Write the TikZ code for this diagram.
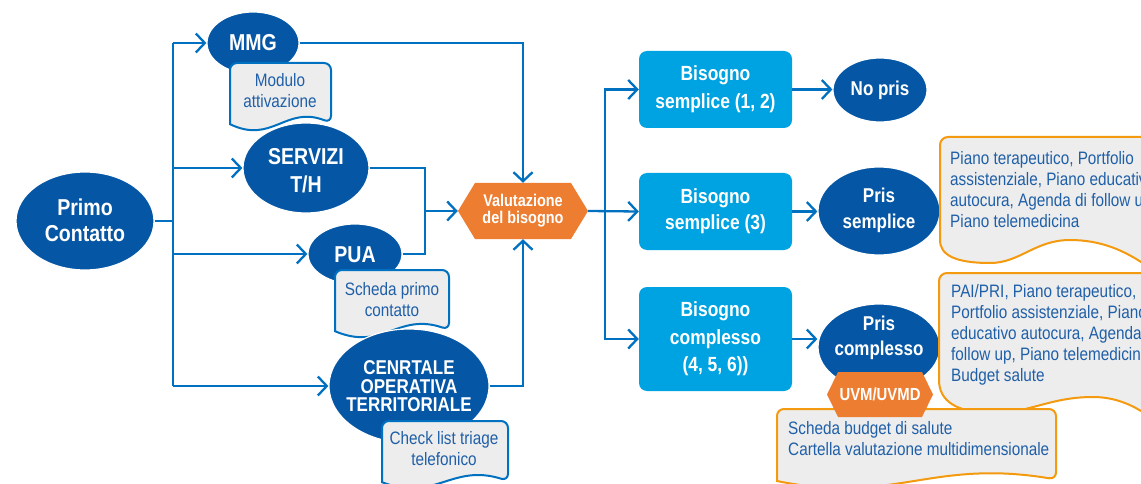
\documentclass[tikz,border=0pt]{standalone}
\usepackage{fontspec}
\setmainfont{Liberation Sans}[FakeStretch=0.85]
\usetikzlibrary{arrows.meta,shapes.geometric,calc}

\definecolor{ellblue}{HTML}{0557A5}
\definecolor{boxblue}{HTML}{00A3E1}
\definecolor{lineblue}{HTML}{0070C0}
\definecolor{hexorange}{HTML}{ED7D31}
\definecolor{docorange}{HTML}{F49A0F}
\definecolor{docgray}{HTML}{EDEDED}
\definecolor{doctext}{HTML}{1F5FA8}

% bold white label font: size and baseline skip
\newcommand\lblfont[2]{\fontsize{#1}{#2}\selectfont\bfseries}

% document shape with rounded top and a wavy bottom edge
% #1 style, #2 left, #3 top, #4 right, #5 nominal bottom
\newcommand\wavedoc[5]{%
  \pgfmathsetmacro\wdW{#4-#2}%
  \pgfmathsetmacro\wdH{#5-#3}%
  \draw[#1, rounded corners=7pt] (#2,{#3+0.9*\wdH}) -- (#2,#3) -- (#4,#3)
    -- (#4,{#3+0.88*\wdH}) [sharp corners]
    .. controls ({#2+0.55*\wdW},{#3+0.62*\wdH}) and ({#2+0.42*\wdW},{#3+1.2*\wdH})
    .. (#2,{#3+0.9*\wdH}) -- cycle;}

\begin{document}
\begin{tikzpicture}[x=1pt,y=-1pt,
  ell/.style={ellipse, fill=ellblue, draw=white, line width=1.2pt, inner sep=0pt},
  lbl/.style={text=white, align=center, inner sep=0pt},
  need/.style={rectangle, rounded corners=8pt, fill=boxblue, minimum width=153pt,
    inner sep=0pt, text=white, align=center},
  hexnode/.style={rectangle, inner sep=0pt, text=white, align=center,
    path picture={\fill[hexorange] (path picture bounding box.west)
      -- ([xshift=#1]path picture bounding box.north west)
      -- ([xshift=-#1]path picture bounding box.north east)
      -- (path picture bounding box.east)
      -- ([xshift=-#1]path picture bounding box.south east)
      -- ([xshift=#1]path picture bounding box.south west) -- cycle;}},
  link/.style={draw=lineblue, line width=2.3pt},
  arr/.style={link, -{Straight Barb[length=9pt,width=19pt]}},
  bluedoc/.style={draw=lineblue, fill=docgray, line width=2pt},
  orangedoc/.style={draw=docorange, fill=docgray, line width=2pt},
  doctxt/.style={text=doctext, inner sep=0pt, font=\fontsize{18}{21}\selectfont}
]
\useasboundingbox (0,0) rectangle (1141,484);
\fill[white] (0,0) rectangle (1141,484);
\clip (0,0) rectangle (1141,484);

% ---------- entry points ----------
\node[ell, minimum width=138pt, minimum height=98pt] (primo) at (85,221) {};
\node[lbl, font=\lblfont{23}{26}] (primoT) at (85,220) {Primo\\Contatto};

\node[ell, minimum width=92pt, minimum height=62pt] (mmg) at (253,43) {};
\node[lbl, font=\lblfont{23}{26}] (mmgT) at (253,43) {MMG};
\wavedoc{bluedoc}{230}{63}{331}{131}
\node[doctxt, align=center] (modT) at (280,91) {Modulo\\attivazione};

\node[ell, minimum width=126pt, minimum height=90pt] (serv) at (306,168) {};
\node[lbl, font=\lblfont{23}{28}] (servT) at (306,171) {SERVIZI\\T/H};

\node[ell, minimum width=94pt, minimum height=60pt] (pua) at (355,254) {};
\node[lbl, font=\lblfont{23}{26}] (puaT) at (355,255) {PUA};
\wavedoc{bluedoc}{335}{270}{449}{338}
\node[doctxt, align=center] (schT) at (392,299.5) {Scheda primo\\contatto};

\node[ell, minimum width=160pt, minimum height=114pt] (cot) at (409,386) {};
\node[lbl, font=\lblfont{20}{18.5}] (cotT) at (409,386.5) {CENRTALE\\OPERATIVA\\TERRITORIALE};
\wavedoc{bluedoc}{382}{421}{508}{489}
\node[doctxt, align=center] (chkT) at (444,448.5) {Check list triage\\telefonico};

% ---------- assessment ----------
\node[hexnode=17pt, minimum width=130pt, minimum height=56pt, font=\lblfont{17}{17}]
  (val) at (523,211) {Valutazione\\del bisogno};

\coordinate (busN) at (173,43);
\coordinate (busS) at (173,386);
\coordinate (jn) at (425,211);
\coordinate (rb) at (605,211);

% ---------- need levels ----------
\node[need, minimum height=77pt, font=\lblfont{20.5}{28}] (b1) at (715.5,89.5) {Bisogno\\semplice (1, 2)};
\node[need, minimum height=77pt, font=\lblfont{20.5}{26}] (b2) at (715.5,211.5) {Bisogno\\semplice (3)};
\node[need, minimum height=104pt, font=\lblfont{20.5}{27.5}] (b3) at (715.5,339) {Bisogno\\complesso\\(4, 5, 6))};

\node[ell, minimum width=94pt, minimum height=64pt] (nopris) at (880,90) {};
\node[lbl, font=\lblfont{20}{25}] (noprisT) at (880,90) {No pris};

\node[ell, minimum width=122pt, minimum height=88pt] (prisS) at (879,211) {};
\node[lbl, font=\lblfont{20}{26}] (prisST) at (879,210) {Pris\\semplice};
\draw[orangedoc, rounded corners=8pt] (940,240) -- (940,137) -- (1155,137) -- (1155,272) [sharp corners]
  .. controls (1125,250) and (1100,240) .. (1070,240)
  .. controls (1035,240) and (1020,263) .. (990,263)
  .. controls (955,263) and (940,255) .. (940,240) -- cycle;
\node[doctxt, align=left, anchor=west] (d1T) at (950,190)
  {Piano terapeutico, Portfolio\\assistenziale, Piano educativo\\autocura, Agenda di follow up,\\Piano telemedicina};

\node[ell, minimum width=122pt, minimum height=86pt] (prisC) at (879,347) {};
\node[lbl, font=\lblfont{20}{25}] (prisCT) at (879,337.5) {Pris\\complesso};
\draw[orangedoc, rounded corners=8pt] (939,380) -- (939,273) -- (1160,273) -- (1160,425) [sharp corners]
  .. controls (1135,405) and (1115,397) .. (1093,397)
  .. controls (1050,397) and (1030,413) .. (993,413)
  .. controls (955,413) and (939,400) .. (939,380) -- cycle;
\node[doctxt, align=left, anchor=west] (d2T) at (951,334.5)
  {PAI/PRI, Piano terapeutico,\\Portfolio assistenziale, Piano\\educativo autocura, Agenda di\\follow up, Piano telemedicina,\\Budget salute};

\wavedoc{orangedoc}{777}{409}{1056}{489}
\node[doctxt, align=left, anchor=west] (d3T) at (788,438.5)
  {Scheda budget di salute\\Cartella valutazione multidimensionale};

\node[hexnode=11pt, minimum width=106pt, minimum height=45pt, font=\lblfont{17.5}{20}]
  (uvm) at (880,394.5) {UVM/UVMD};

% ---------- connectors ----------
\draw[link] (primo.east) -- (primo.east -| busN);
\draw[link] (busN) -- (busS);
\draw[arr] (busN) -- (mmg.west);
\draw[arr] (busN |- serv.west) -- (serv.west);
\draw[arr] (busN |- pua.west) -- (pua.west);
\draw[arr] (busS) -- (cot.west);

\draw[arr] (mmg.east) -| (val.north);
\draw[link] (serv.east) -| (jn);
\draw[link] (pua.east) -| (jn);
\draw[arr] (jn) -- (val.west);
\draw[arr] (cot.east) -| (val.south);

\draw[arr] (val.east) -- (b2.west);
\draw[arr] (rb) |- (b1.west);
\draw[arr] (rb) |- (b3.west);

\draw[arr] (b1.east) -- (b1.east -| nopris.west);
\draw[arr] (b2.east) -- (b2.east -| prisS.west);
\draw[arr] (b3.east) -- (b3.east -| prisC.west);
\end{tikzpicture}
\end{document}
